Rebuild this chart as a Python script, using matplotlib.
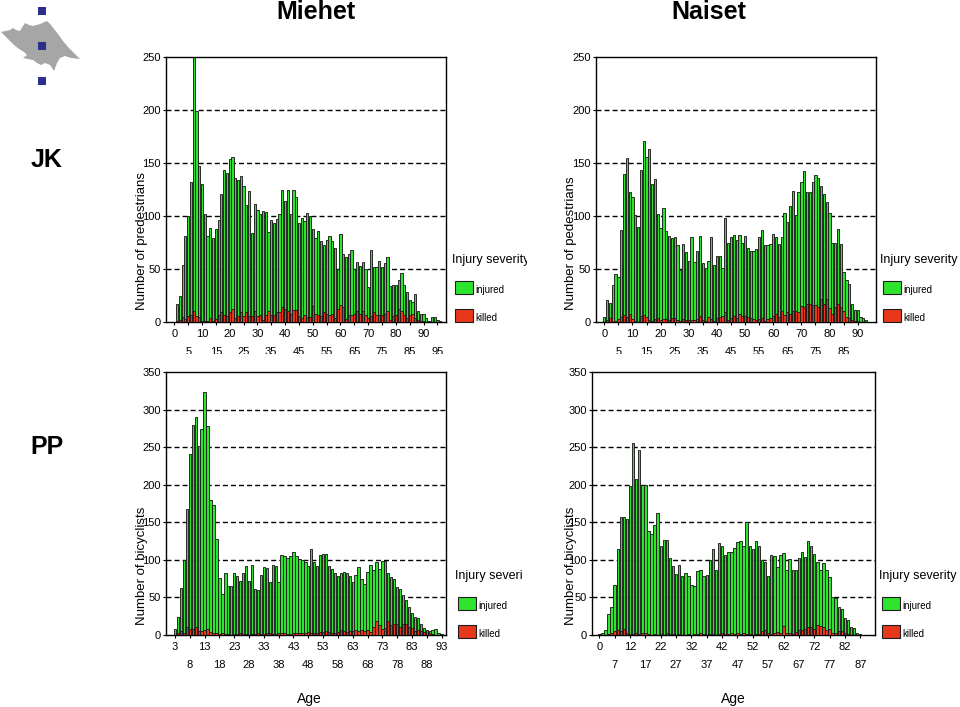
import matplotlib
matplotlib.use('Agg')
import matplotlib.pyplot as plt
import matplotlib.patches as mpatches
from matplotlib.transforms import Bbox, TransformedBbox

plt.rcParams['font.family'] = ['Liberation Sans', 'DejaVu Sans']

W, H = 960, 707

GREEN = '#2ee42e'
RED = '#e8381a'
EDGE = '#1e1e1e'
LOGO_GRAY = '#a6a6a6'
LOGO_BLUE = '#2a2f8c'

# Miehet / JK (pedestrians), ages 0-97
MALE_PED_AGES = list(range(0, 98))
MALE_PED_INJURED = [
    0, 17, 25, 54, 81, 100, 132, 255, 199, 147,
    130, 102, 81, 89, 79, 88, 96, 121, 143, 141,
    154, 156, 136, 134, 138, 128, 110, 124, 84, 111,
    106, 102, 105, 104, 85, 96, 93, 97, 102, 125,
    114, 125, 102, 125, 118, 93, 98, 95, 103, 100,
    88, 79, 86, 76, 73, 77, 81, 76, 70, 50,
    83, 64, 61, 64, 68, 50, 57, 53, 57, 50,
    33, 68, 52, 52, 58, 52, 56, 61, 34, 35,
    35, 40, 46, 35, 28, 21, 19, 26, 10, 8,
    8, 4, 1, 5, 5, 2, 1, 0,
]
MALE_PED_KILLED = [
    0, 1, 2, 5, 3, 6, 7, 10, 6, 5,
    1, 1, 1, 4, 1, 3, 7, 9, 7, 6,
    9, 12, 4, 6, 9, 6, 9, 6, 6, 10,
    6, 7, 2, 7, 10, 7, 7, 9, 9, 14,
    12, 10, 8, 11, 11, 6, 4, 7, 5, 5,
    15, 8, 7, 6, 9, 8, 7, 8, 4, 12,
    16, 14, 3, 7, 7, 8, 10, 8, 10, 7,
    4, 6, 9, 7, 7, 7, 8, 10, 2, 6,
    7, 12, 10, 7, 4, 7, 8, 4, 2, 1,
    1, 0, 0, 0, 0, 0, 0, 0,
]

# Naiset / JK (pedestrians), ages 0-94
FEMALE_PED_AGES = list(range(0, 95))
FEMALE_PED_INJURED = [
    5, 21, 18, 35, 45, 42, 87, 140, 155, 123,
    118, 101, 90, 143, 171, 156, 163, 130, 135, 102,
    89, 108, 86, 81, 79, 80, 73, 49, 74, 66,
    58, 80, 57, 67, 81, 56, 51, 58, 80, 54,
    62, 62, 51, 98, 75, 80, 82, 77, 82, 75,
    81, 70, 67, 67, 69, 80, 87, 73, 73, 74,
    83, 80, 74, 80, 103, 94, 109, 124, 101, 123,
    132, 142, 123, 123, 132, 139, 136, 128, 121, 113,
    103, 75, 75, 88, 74, 47, 40, 36, 17, 11,
    11, 5, 4, 2, 0,
]
FEMALE_PED_KILLED = [
    0, 2, 4, 0, 1, 3, 5, 7, 5, 8,
    3, 1, 0, 6, 7, 5, 2, 1, 3, 4,
    2, 3, 3, 2, 4, 4, 2, 1, 3, 2,
    2, 2, 2, 3, 6, 2, 1, 5, 3, 1,
    4, 5, 6, 9, 2, 4, 6, 4, 8, 6,
    6, 5, 4, 3, 2, 3, 4, 1, 3, 4,
    6, 8, 5, 10, 7, 9, 8, 10, 10, 9,
    15, 14, 17, 17, 16, 16, 14, 22, 17, 22,
    13, 8, 14, 17, 14, 10, 5, 4, 2, 1,
    1, 0, 0, 0, 0,
]

# Miehet / PP (bicyclists), ages 3-93
MALE_BIC_AGES = list(range(3, 94))
MALE_BIC_INJURED = [
    8, 24, 62, 100, 168, 241, 280, 290, 251, 274, 323, 278, 179, 173, 128,
    76, 55, 82, 65, 65, 83, 78, 72, 83, 92, 72, 93, 61, 60, 80, 91, 89,
    70, 93, 92, 70, 106, 105, 102, 105, 110, 105, 101, 100, 97, 92, 114, 97, 92, 106, 108, 108,
    92, 88, 83, 79, 82, 84, 82, 79, 70, 80, 90, 75, 68, 84, 93, 86, 97, 88, 99, 99,
    83, 77, 75, 64, 61, 53, 46, 37, 29, 24, 22, 14, 9, 5, 5, 7, 8, 3, 1,
]
MALE_BIC_KILLED = [
    0, 2, 5, 3, 10, 8, 8, 10, 5, 5, 7, 8, 4, 3, 2,
    1, 2, 1, 1, 0, 1, 1, 2, 1, 1, 0, 1, 1, 2, 1, 1, 2,
    3, 1, 1, 2, 3, 2, 1, 1, 2, 3, 2, 2, 3, 4, 3, 2, 2, 4, 4, 5,
    4, 3, 3, 4, 6, 5, 4, 5, 5, 6, 5, 6, 5, 6, 4, 10, 18, 13, 8, 9,
    18, 13, 15, 14, 10, 15, 14, 10, 9, 5, 6, 5, 4, 6, 2, 1, 0, 0, 0,
]

# Naiset / PP (bicyclists), ages 0 and 3-87
FEMALE_BIC_AGES = [0] + list(range(3, 88))
FEMALE_BIC_INJURED = [
    1, 2, 7, 28, 37, 67, 115, 157, 157, 155,
    198, 256, 208, 246, 200, 200, 139, 134, 147, 162,
    118, 126, 126, 102, 92, 81, 93, 79, 82, 79,
    67, 65, 85, 86, 79, 80, 100, 115, 87, 122,
    118, 107, 111, 110, 116, 124, 125, 118, 151, 118,
    115, 125, 119, 100, 97, 79, 106, 105, 90, 107,
    109, 86, 101, 86, 86, 103, 111, 104, 125, 118,
    108, 97, 87, 96, 87, 77, 50, 49, 37, 34,
    23, 20, 10, 9, 2, 1,
]
FEMALE_BIC_KILLED = [
    0, 0, 0, 1, 2, 5, 7, 5, 8, 2,
    1, 1, 2, 1, 3, 2, 1, 0, 1, 0,
    1, 0, 2, 1, 1, 0, 1, 0, 0, 1,
    0, 1, 1, 2, 1, 0, 1, 1, 0, 1,
    2, 1, 1, 2, 1, 3, 1, 2, 1, 1,
    0, 1, 1, 5, 6, 3, 1, 2, 4, 3,
    12, 3, 3, 1, 4, 7, 6, 8, 10, 10,
    8, 13, 12, 11, 6, 8, 3, 2, 5, 5,
    2, 1, 0, 0, 0, 0,
]

# Tick label rows (ages)
MALE_PED_ROW1 = list(range(0, 91, 10))
MALE_PED_ROW2 = list(range(5, 96, 10))
FEMALE_PED_ROW1 = list(range(0, 91, 10))
FEMALE_PED_ROW2 = list(range(5, 86, 10))
MALE_BIC_ROW1 = list(range(3, 94, 10))
MALE_BIC_ROW2 = list(range(8, 89, 10))
FEMALE_BIC_ROW1 = [0] + list(range(12, 83, 10))
FEMALE_BIC_ROW2 = list(range(7, 88, 10))

LEGEND_TITLE = 'Injury severity'
LEGEND_LABELS = ['injured', 'killed']


def fx(x):
    return x / W


def fy(y):
    return 1 - y / H


def draw_panel(fig, box, ages, injured, killed, xlim, ymax, row1, row2, ylabel, ylabel_xy):
    '''One histogram panel; box = (left, top, right, bottom) in pixels.'''
    l, t, r, b = box
    ax = fig.add_axes([fx(l), fy(b), (r - l) / W, (b - t) / H])
    pos = list(range(len(ages)))

    ax.bar(pos, injured, width=0.8, color=GREEN, edgecolor=EDGE, linewidth=0.65, zorder=2)
    ax.bar(pos, killed, width=0.8, color=RED, edgecolor=EDGE, linewidth=0.65, zorder=3)

    ax.set_xlim(*xlim)
    ax.set_ylim(0, ymax)
    ax.set_yticks(range(0, ymax + 1, 50))
    for y in range(50, ymax, 50):
        ax.axhline(y, color='black', linewidth=1, linestyle=(0, (3.6, 2.2)), zorder=1)

    ax.set_xticks([ages.index(a) for a in row1], [str(a) for a in row1])
    ax.set_xticks([ages.index(a) for a in row2], [str(a) for a in row2], minor=True)
    ax.tick_params(axis='x', which='major', length=2.2, width=0.8, pad=3.0, labelsize=8)
    ax.tick_params(axis='x', which='minor', length=2.2, width=0.8, pad=16.0, labelsize=8)
    ax.tick_params(axis='y', length=2.2, width=0.8, pad=1.5, labelsize=8)

    for side in ['left', 'bottom', 'right', 'top']:
        ax.spines[side].set_color('black')
        ax.spines[side].set_linewidth(1)

    fig.text(fx(ylabel_xy[0]), fy(ylabel_xy[1]), ylabel, rotation=90,
             ha='center', va='center', fontsize=9.5)
    return ax


def draw_legend(fig, x, y, clip_right=None):
    '''Legend placed at pixel position (x, y) = title left/centre.'''
    title = fig.text(fx(x), fy(y), LEGEND_TITLE, ha='left', va='center', fontsize=9)
    if clip_right is not None:
        clip = TransformedBbox(Bbox.from_extents(0, 0, fx(clip_right), 1), fig.transFigure)
        title.set_clip_box(clip)
        title.set_clip_on(True)
    for i, (label, color) in enumerate(zip(LEGEND_LABELS, [GREEN, RED])):
        top = y + 21 + i * 28
        rect = mpatches.Rectangle((fx(x + 3), fy(top + 13)), 18 / W, 13 / H,
                                  transform=fig.transFigure, facecolor=color,
                                  edgecolor=EDGE, linewidth=0.8)
        fig.add_artist(rect)
        fig.text(fx(x + 23), fy(top + 9), label, ha='left', va='center', fontsize=7)


def draw_logo(fig):
    flame = [(1, 32), (10, 30), (13, 28), (16, 30), (20, 31), (23, 26), (25, 23),
             (29, 25), (33, 26), (40, 24), (47, 21), (51, 25), (54, 29), (58, 34),
             (63, 41), (68, 47), (73, 52), (80, 59), (71, 58), (65, 56), (60, 58),
             (57, 63), (54, 71), (50, 65), (45, 63), (41, 65), (37, 63), (33, 60),
             (28, 59), (23, 58), (27, 55), (24, 52), (19, 49), (14, 45), (9, 40),
             (5, 36)]
    poly = mpatches.Polygon([(fx(px), fy(py)) for px, py in flame], closed=True,
                            transform=fig.transFigure, facecolor=LOGO_GRAY, edgecolor='none')
    fig.add_artist(poly)
    for cy in [11, 46, 81]:
        sq = mpatches.Rectangle((fx(38), fy(cy + 4)), 8 / W, 8 / H, transform=fig.transFigure,
                                facecolor=LOGO_BLUE, edgecolor='none', zorder=3)
        fig.add_artist(sq)


def main():
    fig = plt.figure(figsize=(W / 100, H / 100), dpi=100)

    draw_panel(fig, (166, 57, 446, 322), MALE_PED_AGES, MALE_PED_INJURED, MALE_PED_KILLED,
               (-3.0, 98.1), 250, MALE_PED_ROW1, MALE_PED_ROW2,
               'Number of predestrians', (142, 241))
    draw_panel(fig, (596, 57, 876, 322), FEMALE_PED_AGES, FEMALE_PED_INJURED, FEMALE_PED_KILLED,
               (-2.95, 96.5), 250, FEMALE_PED_ROW1, FEMALE_PED_ROW2,
               'Number of pedestrians', (571, 243))
    draw_panel(fig, (166, 372, 446, 635), MALE_BIC_AGES, MALE_BIC_INJURED, MALE_BIC_KILLED,
               (-3.04, 91.5), 350, MALE_BIC_ROW1, MALE_BIC_ROW2,
               'Number of bicyclists', (142, 566))
    draw_panel(fig, (592, 372, 875, 635), FEMALE_BIC_AGES, FEMALE_BIC_INJURED, FEMALE_BIC_KILLED,
               (-2.4, 89.8), 350, FEMALE_BIC_ROW1, FEMALE_BIC_ROW2,
               'Number of bicyclists', (571, 566))

    # Lower half of the second tick row of the upper panels is cut off.
    fig.add_artist(mpatches.Rectangle((fx(150), fy(365)), 750 / W, 11 / H,
                                      transform=fig.transFigure, facecolor='white',
                                      edgecolor='none', zorder=10))

    draw_legend(fig, 452, 260, clip_right=527)
    draw_legend(fig, 880, 260)
    draw_legend(fig, 455, 576, clip_right=522)
    draw_legend(fig, 879, 576)

    fig.text(fx(316), fy(12), 'Miehet', ha='center', va='center', fontsize=18, fontweight='bold')
    fig.text(fx(709), fy(12), 'Naiset', ha='center', va='center', fontsize=18, fontweight='bold')
    fig.text(fx(47), fy(160), 'JK', ha='center', va='center', fontsize=18, fontweight='bold')
    fig.text(fx(47), fy(447), 'PP', ha='center', va='center', fontsize=18, fontweight='bold')
    fig.text(fx(309), fy(699), 'Age', ha='center', va='center', fontsize=10)
    fig.text(fx(733), fy(699), 'Age', ha='center', va='center', fontsize=10)

    draw_logo(fig)

    fig.savefig('out.png', dpi=100, facecolor='white')


if __name__ == '__main__':
    main()
